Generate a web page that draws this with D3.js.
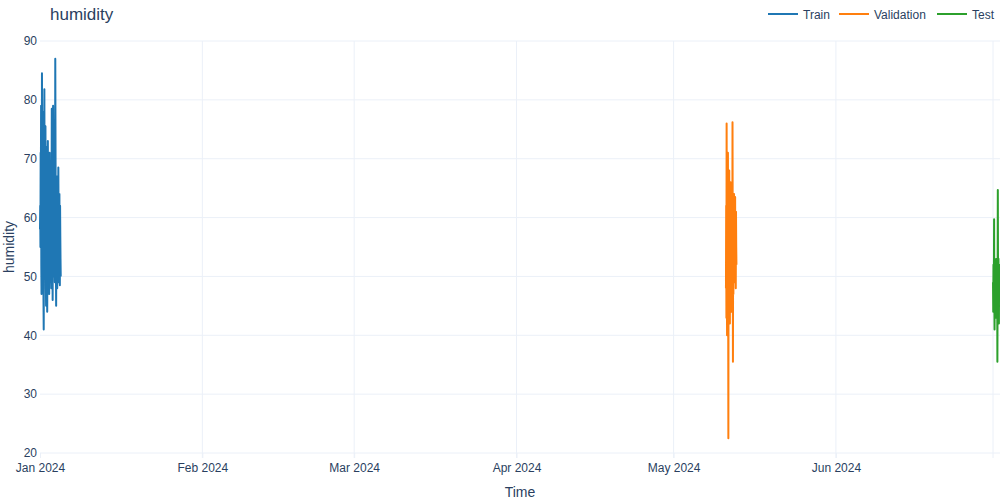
<!DOCTYPE html>
<html>
<head>
<meta charset="utf-8">
<script src="https://cdn.jsdelivr.net/npm/d3@7"></script>
<style>
  body { margin: 0; background: #fff; }
  svg { font-family: "Liberation Sans", Arial, sans-serif; }
  .axis path { display: none; }
  .axis text { fill: #2a3f5f; font-size: 12px; }
</style>
</head>
<body>
<svg id="chart" width="1000" height="500"></svg>
<script>
// hourly humidity readings
const trainStart = "2024-01-01T00:00:00";
const train = [
  58, 62, 55, 71, 66, 79, 52, 47, 60, 84.5, 73, 56, 49, 64, 78, 70, 46, 41, 55, 68, 81.8, 63, 50, 57,
  66, 75.5, 59, 48, 45, 61, 72, 67, 54, 44, 52, 69, 73, 58, 50, 62, 66, 55, 47, 53, 71, 64, 56, 49,
  57, 67, 60, 51, 48, 63, 78.5, 70, 59, 52, 46, 61, 79, 72, 55, 50, 65, 68, 58, 53, 49, 62, 87, 74,
  60, 51, 45, 57, 66, 59, 52, 48, 67, 63, 56, 50, 68.5, 61, 54, 49, 58, 64, 52, 48.5, 62, 57, 53, 50
];

const valStart = "2024-05-11T00:00:00";
const validation = [
  48, 62, 43, 76, 55, 40, 67, 58, 46, 71, 52, 22.5, 60, 64, 45, 68, 50, 57, 42, 63, 54, 66, 48, 59,
  51, 61, 44, 65, 53, 49, 76.2, 56, 35.5, 62, 47, 58, 52, 64, 55, 49, 60, 53, 63.5, 50, 57, 48, 61, 55, 52
];

const testStart = "2024-07-01T00:00:00";
const test = [
  49, 44, 52, 47, 50, 59.7, 46, 41, 53, 48, 51, 45, 50, 47, 52, 43, 49,
  53, 46, 51, 35.5, 48, 64.7, 50, 44, 53, 47, 42, 52, 49, 46, 51, 48
];

const seriesNames = ["Train", "Validation", "Test"];
const colors = ["#1f77b4", "#ff7f0e", "#2ca02c"];
const yTicks = [20, 30, 40, 50, 60, 70, 80, 90];

function toPoints(start, values) {
  const t0 = new Date(start);
  return values.map((v, i) => ({ t: d3.timeHour.offset(t0, i), v: v }));
}

const series = [
  toPoints(trainStart, train),
  toPoints(valStart, validation),
  toPoints(testStart, test)
];

const margin = { top: 41, right: 0, bottom: 47, left: 40 };
const W = 1000, H = 500;
const svg = d3.select("#chart");

const allPts = series.flat();
const x = d3.scaleTime()
  .domain(d3.extent(allPts, d => d.t))
  .range([margin.left, W - margin.right]);
const y = d3.scaleLinear()
  .domain([20, 90])
  .range([H - margin.bottom, margin.top]);

// grid
const months = d3.timeMonth.range(new Date("2024-01-01"), d3.timeDay.offset(x.domain()[1], 1));
svg.append("g")
  .selectAll("line")
  .data(yTicks)
  .join("line")
  .attr("x1", margin.left).attr("x2", W - margin.right)
  .attr("y1", d => y(d)).attr("y2", d => y(d))
  .attr("stroke", "#ebf0f8").attr("stroke-width", 1);
svg.append("g")
  .selectAll("line")
  .data(months.filter(d => d > x.domain()[0]))
  .join("line")
  .attr("x1", d => x(d)).attr("x2", d => x(d))
  .attr("y1", margin.top).attr("y2", H - margin.bottom + 5)
  .attr("stroke", "#ebf0f8").attr("stroke-width", 1);

// axes
const xAxis = svg.append("g")
  .attr("class", "axis")
  .attr("transform", `translate(0,${H - margin.bottom})`)
  .call(d3.axisBottom(x)
    .tickValues(months.filter(d => x(d) + 30 < W))
    .tickFormat(d3.timeFormat("%b %Y"))
    .tickSize(5));
xAxis.selectAll(".tick line").attr("stroke", "#ebf0f8");
xAxis.selectAll("text").attr("dy", "0.9em");

const yAxis = svg.append("g")
  .attr("class", "axis")
  .attr("transform", `translate(${margin.left},0)`)
  .call(d3.axisLeft(y).tickValues(yTicks).tickSize(0).tickPadding(3));

// lines
const line = d3.line().x(d => x(d.t)).y(d => y(d.v));
series.forEach((s, i) => {
  svg.append("path")
    .datum(s)
    .attr("fill", "none")
    .attr("stroke", colors[i])
    .attr("stroke-width", 2)
    .attr("stroke-linejoin", "round")
    .attr("d", line);
});

// titles
svg.append("text")
  .attr("x", 50).attr("y", 20)
  .attr("fill", "#2a3f5f").attr("font-size", 17)
  .text("humidity");
svg.append("text")
  .attr("x", (margin.left + W - margin.right) / 2).attr("y", 497)
  .attr("text-anchor", "middle")
  .attr("fill", "#2a3f5f").attr("font-size", 14)
  .text("Time");
svg.append("text")
  .attr("transform", `translate(14,${(margin.top + H - margin.bottom) / 2}) rotate(-90)`)
  .attr("text-anchor", "middle")
  .attr("fill", "#2a3f5f").attr("font-size", 14)
  .text("humidity");

// legend
const legendX = [768, 839, 937];
const legend = svg.append("g");
seriesNames.forEach((name, i) => {
  const g = legend.append("g").attr("transform", `translate(${legendX[i]},14)`);
  g.append("line")
    .attr("x1", 0).attr("x2", 30)
    .attr("stroke", colors[i]).attr("stroke-width", 2);
  g.append("text")
    .attr("x", 35).attr("y", 4.5)
    .attr("fill", "#2a3f5f").attr("font-size", 12)
    .text(name);
});
</script>
</body>
</html>
